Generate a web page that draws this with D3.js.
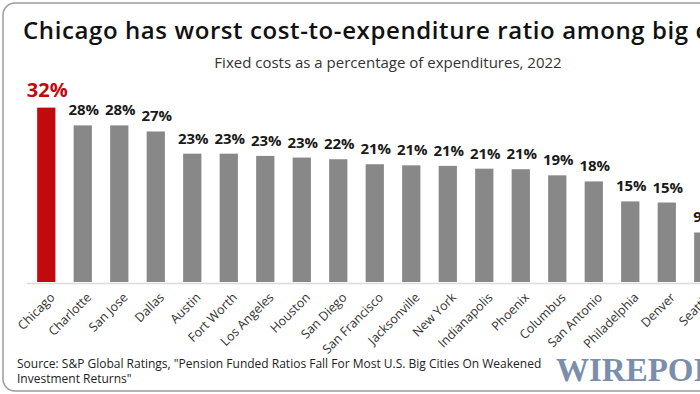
<!DOCTYPE html>
<head>
  <meta charset="utf-8">
  <script src="https://d3js.org/d3.v7.min.js"></script>
  <style>
    body { margin: 0; background: #fff; }
    svg { display: block; font-family: "Open Sans", sans-serif; }
    .title { font-size: 24px; font-weight: 600; fill: #111; letter-spacing: 0.6px; }
    .subtitle { font-size: 15px; fill: #333; }
    .val { font-size: 15px; font-weight: 700; fill: #1a1a1a; }
    .city { font-size: 12.5px; fill: #333; }
    .source { font-size: 12px; fill: #222; }
    .logo { font-family: "Liberation Serif", serif; font-weight: 700; font-size: 33px; fill: #7b8fac; }
  </style>
</head>
<body>
  <svg id="chart" width="700" height="394"></svg>
  <script>
    // data
    const cities = ["Chicago", "Charlotte", "San Jose", "Dallas", "Austin", "Fort Worth", "Los Angeles",
      "Houston", "San Diego", "San Francisco", "Jacksonville", "New York", "Indianapolis", "Phoenix",
      "Columbus", "San Antonio", "Philadelphia", "Denver", "Seattle"];
    const ratios = [31.6, 28.4, 28.4, 27.3, 23.3, 23.3, 22.9, 22.6, 22.3, 21.4, 21.2, 21.1, 20.6, 20.5,
      19.4, 18.3, 14.7, 14.5, 9.1];
    const highlight = "Chicago";

    const titleText = "Chicago has worst cost-to-expenditure ratio among big cities";
    const subtitleText = "Fixed costs as a percentage of expenditures, 2022";
    const sourceLines = [
      "Source: S&P Global Ratings, \"Pension Funded Ratios Fall For Most U.S. Big Cities On Weakened",
      "Investment Returns\""
    ];

    const data = cities.map((c, i) => ({ city: c, v: ratios[i] }));

    const svg = d3.select("#chart");
    const baseY = 283;

    // card border (runs off the right edge like the reference crop)
    svg.append("rect")
      .attr("x", 3).attr("y", 3)
      .attr("width", 760).attr("height", 388)
      .attr("rx", 12)
      .attr("fill", "none")
      .attr("stroke", "#9a9a9a")
      .attr("stroke-width", 1.5);

    svg.append("text").attr("class", "title")
      .attr("x", 23).attr("y", 39)
      .text(titleText);

    svg.append("text").attr("class", "subtitle")
      .attr("x", 388).attr("y", 68)
      .attr("text-anchor", "middle")
      .text(subtitleText);

    const x = d3.scaleBand()
      .domain(cities)
      .range([18.9, 18.9 + 36.5 * 19.5])
      .padding(0.5);

    const y = d3.scaleLinear()
      .domain([0, 32])
      .range([baseY, baseY - 32 * 5.55]);

    // baseline
    svg.append("line")
      .attr("x1", 27).attr("x2", 700)
      .attr("y1", baseY + 0.5).attr("y2", baseY + 0.5)
      .attr("stroke", "#dcdcdc")
      .attr("stroke-width", 1.5);

    svg.selectAll("rect.bar")
      .data(data)
      .enter().append("rect")
      .attr("class", "bar")
      .attr("x", d => x(d.city))
      .attr("width", x.bandwidth())
      .attr("y", d => y(d.v))
      .attr("height", d => y(0) - y(d.v) - 1)
      .attr("fill", d => d.city === highlight ? "#c20a0e" : "#888888");

    svg.selectAll("text.val")
      .data(data)
      .enter().append("text")
      .attr("class", "val")
      .attr("x", d => x(d.city) + x.bandwidth() / 2 + 1)
      .attr("y", d => y(d.v) - (d.city === highlight ? 11 : 10))
      .attr("text-anchor", "middle")
      .style("font-size", d => d.city === highlight ? "20px" : null)
      .style("fill", d => d.city === highlight ? "#c20a0e" : null)
      .text(d => Math.round(d.v) + "%");

    svg.selectAll("text.city")
      .data(data)
      .enter().append("text")
      .attr("class", "city")
      .attr("transform", d => `translate(${x(d.city) + x.bandwidth() / 2 + 3},${baseY + 9}) rotate(-45)`)
      .attr("text-anchor", "end")
      .attr("dy", "0.7em")
      .text(d => d.city);

    svg.selectAll("text.source")
      .data(sourceLines)
      .enter().append("text")
      .attr("class", "source")
      .attr("x", 17)
      .attr("y", (d, i) => 368 + i * 14.5)
      .text(d => d);

    svg.append("text").attr("class", "logo")
      .attr("x", 556).attr("y", 381)
      .text("WIREPOINTS");
  </script>
</body>
